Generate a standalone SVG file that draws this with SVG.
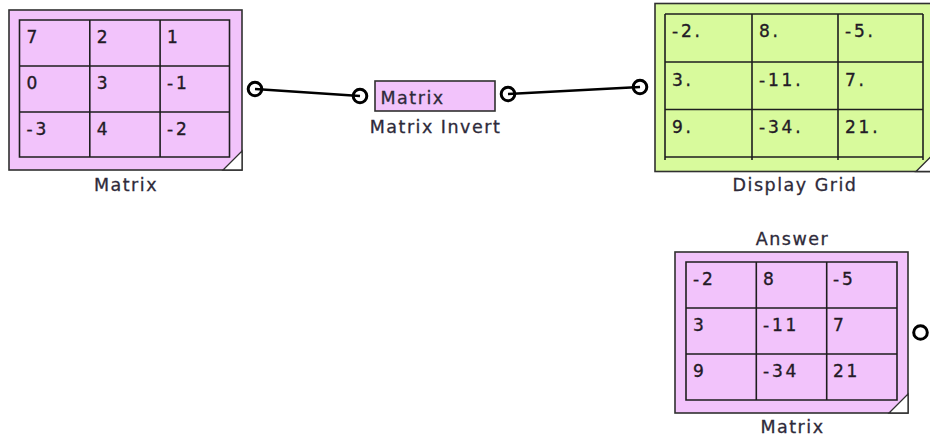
<svg xmlns="http://www.w3.org/2000/svg" width="930" height="442" viewBox="0 0 930 442">
<style>
.pink{fill:#f2c3fb;stroke:#303030;stroke-width:1.6}
.green{fill:#d8fa9c;stroke:#303030;stroke-width:1.6}
.grid{fill:none;stroke:#1e1e1e;stroke-width:1.6}
.corner{fill:#ffffff;stroke:#303030;stroke-width:1.3}
.cell{font-family:"DejaVu Sans",Verdana,sans-serif;font-size:17px;letter-spacing:2.8px;fill:#231a26;stroke:#231a26;stroke-width:0.35}
.lbl{font-family:"DejaVu Sans",Verdana,sans-serif;font-size:17.5px;letter-spacing:1.5px;fill:#2e2a3a;stroke:#2e2a3a;stroke-width:0.3;text-anchor:middle}
.port{fill:none;stroke:#000;stroke-width:3}
.wire{fill:none;stroke:#000;stroke-width:2.5}
</style>
<g id="connectors">
<line class="wire" x1="255" y1="89" x2="360" y2="96"/>
<line class="wire" x1="508" y1="94" x2="640" y2="87"/>
</g>
<g id="matrix-input">
<rect class="pink" x="9" y="10" width="233" height="160"/>
<path class="grid" d="M19.5 20H229.5V157H19.5Z M89.8 20V157 M160.1 20V157 M19.5 66H229.5 M19.5 112H229.5"/>
<path class="corner" d="M223 170L242 151V170Z"/>
<text class="cell" x="26.5" y="43">7</text>
<text class="cell" x="96.8" y="43">2</text>
<text class="cell" x="167" y="43">1</text>
<text class="cell" x="26.5" y="89">0</text>
<text class="cell" x="96.8" y="89">3</text>
<text class="cell" x="167" y="89">-1</text>
<text class="cell" x="26.5" y="135">-3</text>
<text class="cell" x="96.8" y="135">4</text>
<text class="cell" x="167" y="135">-2</text>
<text class="lbl" x="126" y="190.5">Matrix</text>
<circle class="port" cx="255" cy="89" r="6.8"/>
</g>
<g id="matrix-invert">
<rect class="pink" x="375" y="81" width="120" height="30"/>
<text class="lbl" x="380.5" y="104" style="text-anchor:start">Matrix</text>
<text class="lbl" x="435.5" y="132.7">Matrix Invert</text>
<circle class="port" cx="360" cy="96" r="6.8"/>
<circle class="port" cx="508" cy="94" r="6.8"/>
</g>
<g id="display-grid">
<rect class="green" x="655" y="3.5" width="280" height="168"/>
<path class="grid" d="M665 14H923 M665 62H923 M665 109.5H923 M665 157H923 M665 14V160 M752 14V160 M838 14V160 M923 14V160"/>
<path class="corner" d="M916 171.5L935 152.5V171.5Z"/>
<text class="cell" x="672" y="37">-2.</text>
<text class="cell" x="759" y="37">8.</text>
<text class="cell" x="845" y="37">-5.</text>
<text class="cell" x="672" y="85.5">3.</text>
<text class="cell" x="759" y="85.5">-11.</text>
<text class="cell" x="845" y="85.5">7.</text>
<text class="cell" x="672" y="133">9.</text>
<text class="cell" x="759" y="133">-34.</text>
<text class="cell" x="845" y="133">21.</text>
<text class="lbl" x="795" y="191">Display Grid</text>
<circle class="port" cx="640" cy="87" r="6.8"/>
</g>
<g id="matrix-answer">
<rect class="pink" x="675" y="252" width="233" height="161"/>
<path class="grid" d="M686 262H897V400H686Z M756.3 262V400 M826.7 262V400 M686 308H897 M686 354H897"/>
<path class="corner" d="M889 413L908 394V413Z"/>
<text class="cell" x="693" y="285">-2</text>
<text class="cell" x="763" y="285">8</text>
<text class="cell" x="833" y="285">-5</text>
<text class="cell" x="693" y="331">3</text>
<text class="cell" x="763" y="331">-11</text>
<text class="cell" x="833" y="331">7</text>
<text class="cell" x="693" y="377">9</text>
<text class="cell" x="763" y="377">-34</text>
<text class="cell" x="833" y="377">21</text>
<text class="lbl" x="792.5" y="245">Answer</text>
<text class="lbl" x="792.5" y="432.7">Matrix</text>
<circle class="port" cx="920.5" cy="332.5" r="6.8"/>
</g>
</svg>
